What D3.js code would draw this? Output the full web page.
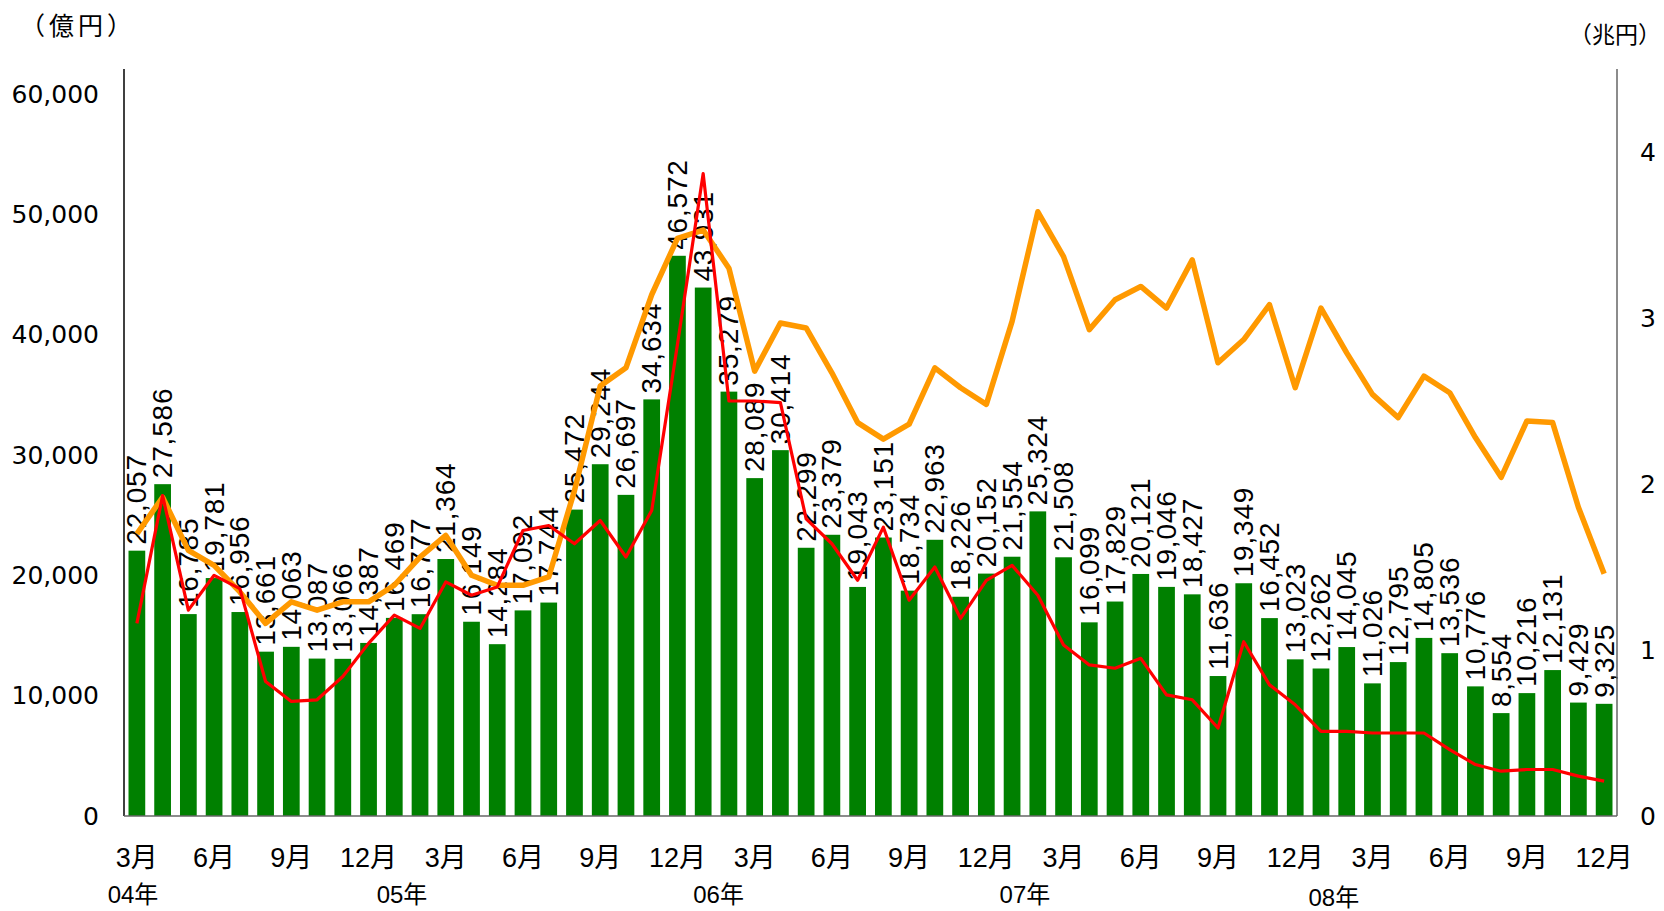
<!DOCTYPE html>
<html>
<head>
<meta charset="utf-8">
<script src="https://cdn.jsdelivr.net/npm/d3@7"></script>
<style>
  html, body { margin: 0; padding: 0; background: #fff; }
  svg { display: block; }
</style>
</head>
<body>
<script>
// ---- data ----
const categories = [
  "04-03","04-04","04-05","04-06","04-07","04-08","04-09","04-10","04-11","04-12",
  "05-01","05-02","05-03","05-04","05-05","05-06","05-07","05-08","05-09","05-10","05-11","05-12",
  "06-01","06-02","06-03","06-04","06-05","06-06","06-07","06-08","06-09","06-10","06-11","06-12",
  "07-01","07-02","07-03","07-04","07-05","07-06","07-07","07-08","07-09","07-10","07-11","07-12",
  "08-01","08-02","08-03","08-04","08-05","08-06","08-07","08-08","08-09","08-10","08-11","08-12"
];
const barValues = [
  22057,27586,16785,19781,16956,13661,14063,13087,13066,14387,
  16469,16777,21364,16149,14284,17092,17744,25472,29244,26697,34634,46572,
  43931,35279,28089,30414,22299,23379,19043,23151,18734,22963,18226,20152,
  21554,25324,21508,16099,17829,20121,19046,18427,11636,19349,16452,13023,
  12262,14045,11026,12795,14805,13536,10776,8554,10216,12131,9429,9325
];
const orangeValues = [
  1.70,1.92,1.60,1.51,1.35,1.16,1.29,1.24,1.29,1.29,
  1.39,1.56,1.69,1.45,1.39,1.39,1.44,1.96,2.59,2.70,3.14,3.48,
  3.53,3.30,2.68,2.97,2.94,2.67,2.37,2.27,2.36,2.70,2.58,2.48,
  2.98,3.64,3.37,2.93,3.11,3.19,3.06,3.35,2.73,2.87,3.08,2.58,
  3.06,2.79,2.54,2.40,2.65,2.55,2.28,2.04,2.38,2.37,1.86,1.46
];
const redValues = [
  1.16,1.93,1.24,1.45,1.37,0.81,0.69,0.70,0.84,1.04,
  1.21,1.13,1.41,1.33,1.38,1.72,1.75,1.64,1.78,1.56,1.84,2.84,
  3.87,2.50,2.50,2.49,1.79,1.64,1.42,1.74,1.30,1.50,1.19,1.42,
  1.51,1.33,1.03,0.91,0.89,0.95,0.73,0.70,0.53,1.05,0.79,0.67,
  0.51,0.51,0.50,0.50,0.50,0.40,0.31,0.27,0.28,0.28,0.24,0.21
];
const monthTickLabels = ["3月","6月","9月","12月","3月","6月","9月","12月","3月","6月","9月","12月",
                         "3月","6月","9月","12月","3月","6月","9月","12月"];
const yearLabels = ["04年","05年","06年","07年","08年"];
const leftTicks = [0,10000,20000,30000,40000,50000,60000];
const rightTicks = [0,1,2,3,4];

// ---- drawing ----
const W = 1664, H = 911;
const L = 124, R = 1617, T = 69, B = 816;

const svg = d3.select("body").append("svg").attr("width", W).attr("height", H);

const x = d3.scaleBand().domain(categories).range([L, R]).paddingInner(0.35).paddingOuter(0.175);
const yL = d3.scaleLinear().domain([0, 62100]).range([B, T]);
const yR = d3.scaleLinear().domain([0, 4.5]).range([B, T]);
const cx = i => x(categories[i]) + x.bandwidth() / 2;

// bars
svg.append("g").selectAll("rect").data(barValues).join("rect")
  .attr("x", (d, i) => x(categories[i]))
  .attr("y", d => yL(d))
  .attr("width", x.bandwidth())
  .attr("height", d => B - yL(d))
  .attr("fill", "#008000");

// bar labels
const fmt = d3.format(",");
svg.append("g").selectAll("text").data(barValues).join("text")
  .attr("transform", (d, i) => `translate(${cx(i)},${yL(d) - 6}) rotate(-90)`)
  .attr("text-anchor", "start")
  .attr("dominant-baseline", "central")
  .attr("font-family", "'Liberation Sans', Arial, sans-serif")
  .attr("font-size", 28)
  .attr("letter-spacing", 0.8)
  .attr("fill", "#000")
  .text(d => fmt(d));

// lines
const lineGen = d3.line().x((d, i) => cx(i)).y(d => yR(d));
svg.append("path").datum(orangeValues)
  .attr("d", lineGen).attr("fill", "none")
  .attr("stroke", "#FF9900").attr("stroke-width", 5.5)
  .attr("stroke-linejoin", "round");
svg.append("path").datum(redValues)
  .attr("d", lineGen).attr("fill", "none")
  .attr("stroke", "#FF0000").attr("stroke-width", 3.2)
  .attr("stroke-linejoin", "round");

// axes lines
svg.append("line").attr("x1", L).attr("x2", L).attr("y1", T).attr("y2", B)
  .attr("stroke", "#000").attr("stroke-width", 1.5);
svg.append("line").attr("x1", R).attr("x2", R).attr("y1", T).attr("y2", B)
  .attr("stroke", "#666").attr("stroke-width", 1.5);
svg.append("line").attr("x1", L).attr("x2", R).attr("y1", B).attr("y2", B)
  .attr("stroke", "#666").attr("stroke-width", 1.5);

// left ticks
svg.append("g").selectAll("text").data(leftTicks).join("text")
  .attr("x", 99).attr("y", d => yL(d))
  .attr("text-anchor", "end").attr("dominant-baseline", "central")
  .attr("font-family", "'DejaVu Sans', sans-serif").attr("font-size", 25)
  .attr("fill", "#000")
  .text(d => fmt(d));

// right ticks
svg.append("g").selectAll("text").data(rightTicks).join("text")
  .attr("x", 1640).attr("y", d => yR(d))
  .attr("text-anchor", "start").attr("dominant-baseline", "central")
  .attr("font-family", "'DejaVu Sans', sans-serif").attr("font-size", 25)
  .attr("fill", "#000")
  .text(d => d);

// month labels (every third category)
svg.append("g").selectAll("text").data(monthTickLabels).join("text")
  .attr("x", (d, i) => cx(i * 3))
  .attr("y", 858)
  .attr("text-anchor", "middle").attr("dominant-baseline", "central")
  .attr("font-family", "'Liberation Sans', 'Noto Sans CJK JP', sans-serif").attr("font-size", 27)
  .attr("fill", "#000")
  .text(d => d);

// year labels
const yearPos = [-0.15, 10.3, 22.6, 34.5, 46.5];
const yearY = [894, 894, 894, 894, 897];
const step = x.step();
svg.append("g").selectAll("text").data(yearLabels).join("text")
  .attr("x", (d, i) => cx(0) + yearPos[i] * step)
  .attr("y", (d, i) => yearY[i])
  .attr("text-anchor", "middle").attr("dominant-baseline", "central")
  .attr("font-family", "'Liberation Sans', 'Noto Sans CJK JP', sans-serif").attr("font-size", 24)
  .attr("fill", "#000")
  .text(d => d);

// axis unit titles
svg.append("text").attr("x", 20).attr("y", 24)
  .attr("dominant-baseline", "central")
  .attr("font-family", "'Noto Sans CJK JP', sans-serif").attr("font-size", 25)
  .attr("letter-spacing", 4)
  .text("（億円）");
svg.append("text").attr("x", 1569).attr("y", 33)
  .attr("text-anchor", "start").attr("dominant-baseline", "central")
  .attr("font-family", "'Noto Sans CJK JP', sans-serif").attr("font-size", 23)
  .text("（兆円）");
</script>
</body>
</html>
